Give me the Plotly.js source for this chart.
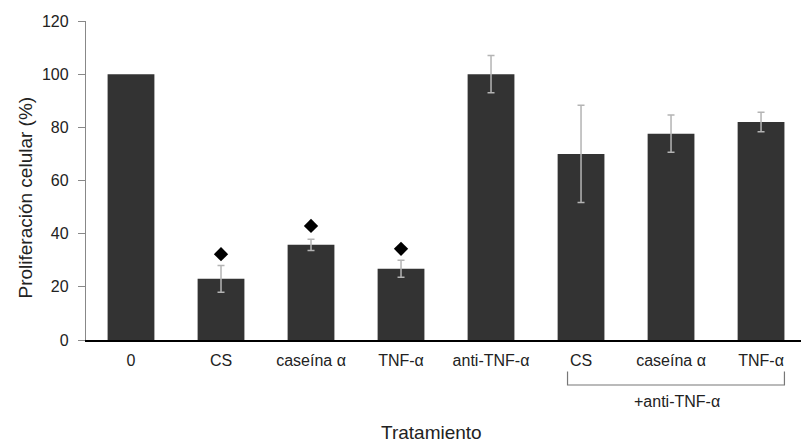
<!DOCTYPE html>
<html>
<head>
<meta charset="utf-8">
<script src="https://cdn.plot.ly/plotly-3.0.1.min.js"></script>
<style>html,body{margin:0;padding:0;background:#fff;}#chart{width:801px;height:443px;}</style>
</head>
<body>
<div id="chart"></div>
<script>
const categories = ["0", "CS", "caseína α", "TNF-α", "anti-TNF-α", "CS", "caseína α", "TNF-α"];
const proliferation = [100, 23, 35.8, 26.8, 100, 70, 77.6, 82];
const errors = [null, 5, 2.1, 3.2, 7, 18.3, 7, 3.7];
const significance = [null, 32.3, 42.9, 34.3, null, null, null, null];
const yTicks = [0, 20, 40, 60, 80, 100, 120];
const groupLabel = "+anti-TNF-α";
const xTitle = "Tratamiento";
const yTitle = "Proliferación celular (%)";

const idx = categories.map((_, i) => i);
const FONT = "Liberation Sans, Arial, sans-serif";
const errY = proliferation.map((v, i) => (errors[i] == null ? null : v));

const traces = [
  {
    type: "bar",
    x: idx,
    y: proliferation,
    width: 0.52,
    marker: {color: "#333333"},
    hoverinfo: "skip"
  },
  {
    type: "scatter",
    mode: "none",
    x: idx,
    y: errY,
    error_y: {type: "data", array: errors.map(e => (e == null ? 0 : e)), visible: true, color: "#b4b4b4", thickness: 1.5, width: 3.5},
    hoverinfo: "skip"
  },
  {
    type: "scatter",
    mode: "markers",
    x: idx,
    y: significance,
    marker: {symbol: "diamond", size: 11, color: "#000000"},
    hoverinfo: "skip"
  }
];

const layout = {
  width: 801,
  height: 443,
  margin: {l: 86, r: 0, t: 21, b: 103},
  paper_bgcolor: "#ffffff",
  plot_bgcolor: "#ffffff",
  showlegend: false,
  font: {family: FONT, size: 16, color: "#222222"},
  xaxis: {
    range: [-0.5, 7.444],
    tickvals: idx,
    ticktext: categories,
    ticks: "",
    showgrid: false,
    zeroline: false,
    showline: true,
    linecolor: "#000000",
    linewidth: 1.5,
    tickfont: {family: FONT, size: 16, color: "#222222"},
    ticklabelstandoff: 5,
    fixedrange: true
  },
  yaxis: {
    range: [0, 120],
    tickvals: yTicks,
    ticks: "outside",
    ticklen: 7,
    tickcolor: "#888888",
    tickwidth: 1,
    showgrid: false,
    zeroline: false,
    showline: true,
    linecolor: "#888888",
    linewidth: 1.2,
    tickfont: {family: FONT, size: 16, color: "#222222"},
    ticklabelstandoff: 6,
    fixedrange: true
  },
  shapes: [
    {type: "path", xref: "x", yref: "paper",
     path: "M 4.85 -0.099 L 4.85 -0.141 L 7.26 -0.141 L 7.26 -0.099",
     line: {color: "#777777", width: 1.2}}
  ],
  annotations: [
    {text: groupLabel, xref: "x", yref: "paper", x: 6.07, y: -0.193, showarrow: false,
     xanchor: "center", yanchor: "middle", font: {family: FONT, size: 16, color: "#222222"}},
    {text: xTitle, xref: "paper", yref: "paper", x: (431.7 - 86) / 715, y: -0.2915, showarrow: false,
     xanchor: "center", yanchor: "middle", font: {family: FONT, size: 19, color: "#222222"}},
    {text: yTitle, xref: "paper", yref: "paper", x: -0.0853, y: 0.4467, showarrow: false, textangle: -90,
     xanchor: "center", yanchor: "middle", font: {family: FONT, size: 19, color: "#222222"}}
  ]
};

Plotly.newPlot("chart", traces, layout, {staticPlot: true, displayModeBar: false});
</script>
</body>
</html>
